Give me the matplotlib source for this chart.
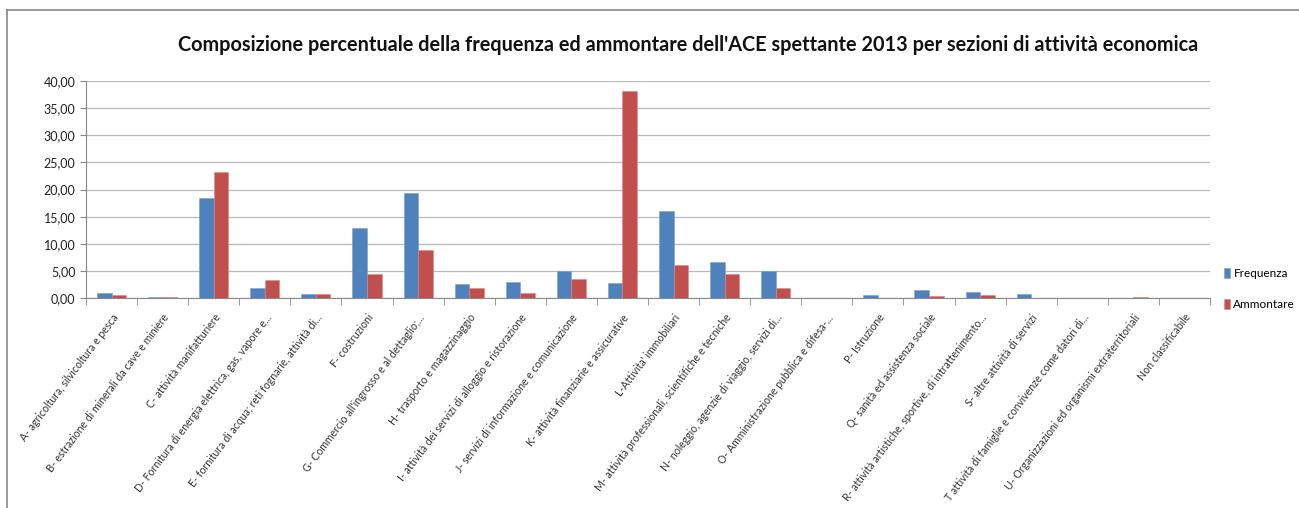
import matplotlib.pyplot as plt
import numpy as np
from matplotlib.ticker import FuncFormatter

categorie = [
    "A- agricoltura, silvicoltura e pesca",
    "B- estrazione di minerali da cave e miniere",
    "C- attività manifatturiere",
    "D- Fornitura di energia elettrica, gas, vapore e...",
    "E- fornitura di acqua; reti fognarie, attività di...",
    "F- costruzioni",
    "G- Commercio all'ingrosso e al dettaglio;...",
    "H- trasporto e magazzinaggio",
    "I- attività dei servizi di alloggio e ristorazione",
    "J- servizi di informazione e comunicazione",
    "K- attività finanziarie e assicurative",
    "L-Attivita' immobiliari",
    "M- attività professionali, scientifiche e tecniche",
    "N- noleggio, agenzie di viaggio, servizi di...",
    "O- Amministrazione pubblica e difesa-...",
    "P- Istruzione",
    "Q- sanità ed assistenza sociale",
    "R- attività artistiche, sportive, di intrattenimento...",
    "S- altre attività di servizi",
    "T attività di famiglie e convivenze come datori di...",
    "U- Organizzazioni ed organismi extraterritoriali",
    "Non classificabile",
]

frequenza = [1.03, 0.30, 18.40, 1.84, 0.85, 12.90, 19.30, 2.63, 3.06, 5.02, 2.87,
             16.00, 6.73, 5.07, 0.03, 0.55, 1.47, 1.16, 0.74, 0.01, 0.02, 0.01]
ammontare = [0.55, 0.30, 23.30, 3.36, 0.85, 4.40, 8.80, 1.90, 1.03, 3.60, 38.10,
             6.18, 4.41, 1.90, 0.02, 0.05, 0.45, 0.55, 0.05, 0.01, 0.30, 0.01]

blu = "#4F81BD"
rosso = "#C0504D"
font = ["Lato", "DejaVu Sans"]

fig = plt.figure(figsize=(12.99, 5.08), dpi=100)
ax = fig.add_axes([86 / 1299, 0.413, (1210 - 86) / 1299, 0.4275])

x = np.arange(len(categorie))
w = 0.285
ax.bar(x - w / 2, frequenza, w, color=blu, edgecolor="#7aa0d0", linewidth=0.4,
       label="Frequenza", zorder=3)
ax.bar(x + w / 2, ammontare, w, color=rosso, edgecolor="#d98a88", linewidth=0.4,
       label="Ammontare", zorder=3)

ax.set_xlim(-0.5, len(categorie) - 0.5)
ax.set_ylim(0, 40)
ax.set_yticks(np.arange(0, 41, 5))
ax.yaxis.set_major_formatter(FuncFormatter(lambda v, p: f"{v:.2f}".replace(".", ",")))
ax.grid(axis="y", color="#b8b8b8", linewidth=0.9, zorder=0)

ax.set_xticks(x)
ax.set_xticklabels(categorie, rotation=53, ha="right", rotation_mode="anchor",
                   fontsize=7.6, color="#333333", family=font)
ax.tick_params(axis="x", length=0, pad=10)
ax.set_xticks(np.arange(-0.5, len(categorie), 1), minor=True)
ax.tick_params(axis="x", which="minor", length=5, color="#888888")
ax.tick_params(axis="y", length=4, color="#888888", labelsize=9,
               labelcolor="#222222")
for lab in ax.get_yticklabels():
    lab.set_family(font)

for s in ["top", "right"]:
    ax.spines[s].set_visible(False)
ax.spines["left"].set_color("#888888")
ax.spines["bottom"].set_color("#888888")

fig.text(0.530, 0.911, "Composizione percentuale della frequenza ed ammontare dell'ACE spettante 2013 per sezioni di attività economica",
         ha="center", va="center", fontsize=14.3, fontweight="bold",
         family=font, color="#111111")

fig.legend(loc="center left", bbox_to_anchor=(1224 / 1299, 1 - 289 / 508),
           frameon=False, handlelength=0.5, handleheight=0.9, borderpad=0,
           borderaxespad=0, handletextpad=0.3, labelspacing=1.7,
           prop={"family": font, "size": 8.5})

# bordo del riquadro
fig.add_artist(plt.Line2D([7 / 1299, 7 / 1299], [0, 1 - 10 / 508], color="#888888",
                          linewidth=1.2, transform=fig.transFigure))
fig.add_artist(plt.Line2D([7 / 1299, 1], [1 - 10 / 508, 1 - 10 / 508], color="#888888",
                          linewidth=1.2, transform=fig.transFigure))

fig.savefig("out.png", dpi=100)
